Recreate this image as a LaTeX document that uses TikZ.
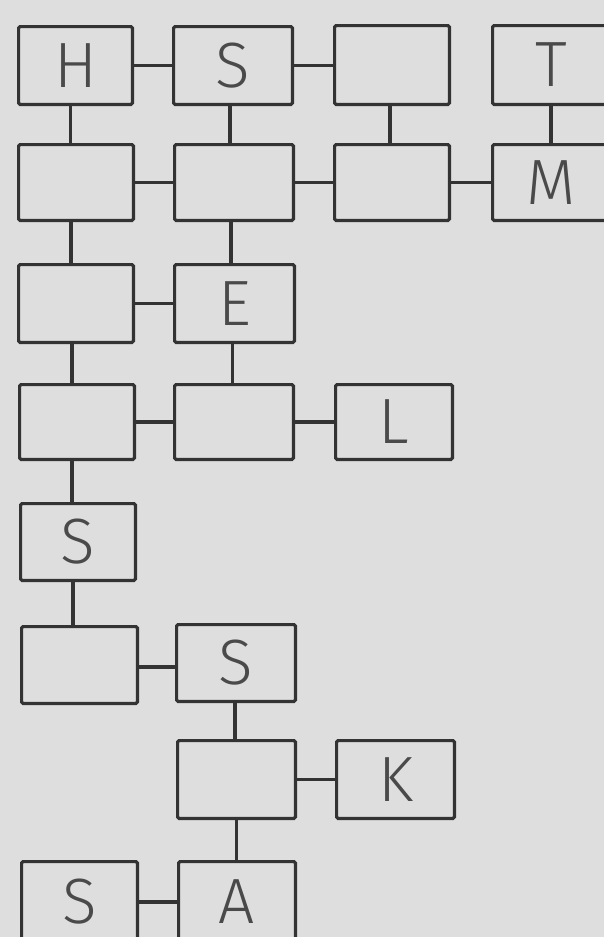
\documentclass[tikz,border=0pt]{standalone}
\usepackage{fontspec}
\setmainfont{Fira Sans Light}
\definecolor{paper}{HTML}{DEDEDE}
\definecolor{ink}{HTML}{333333}
\definecolor{pencil}{HTML}{4A4A4A}
\newcommand\mkbox[6]{\node[cell, minimum width={#4-#2-3.2}, minimum height={#5-#3-3.2}] (#1) at ({(#2+#4)/2},{(#3+#5)/2}) {#6};}
\newcommand\vlink[3]{\draw[link] ([xshift=#3pt]#1.south) coordinate (t) -- (t |- #2.north);}
\newcommand\hlink[3]{\draw[link] ([yshift=#3pt]#1.east) coordinate (t) -- (t -| #2.west);}
\begin{document}
\begin{tikzpicture}[x=1pt,y=-1pt,
  cell/.style={draw=ink, line width=3.2pt, rounded corners=1.5pt, inner sep=0pt,
    text=pencil, font=\fontsize{64}{64}\selectfont},
  link/.style={draw=ink, line width=3.2pt}]
\useasboundingbox (0,0) rectangle (604,937);
\fill[paper] (0,0) rectangle (604,937);
\clip (0,0) rectangle (604,937);
% row 1
\mkbox{r1c1}{17}{25}{134}{106}{H}
\mkbox{r1c2}{172}{25}{294}{106}{S}
\mkbox{r1c3}{333}{24}{451}{106}{}
\mkbox{r1c4}{491}{24}{611}{106}{T}
% row 2
\mkbox{r2c1}{17}{143}{135}{222}{}
\mkbox{r2c2}{173}{143}{295}{222}{}
\mkbox{r2c3}{333}{143}{451}{222}{}
\mkbox{r2c4}{491}{143}{611}{222}{M}
% row 3
\mkbox{r3c1}{17}{263}{135}{344}{}
\mkbox{r3c2}{173}{263}{296}{344}{E}
% row 4
\mkbox{r4c1}{18}{383}{136}{461}{}
\mkbox{r4c2}{173}{383}{295}{461}{}
\mkbox{r4c3}{334}{383}{454}{461}{L}
% row 5
\mkbox{r5c1}{19}{502}{137}{582}{S}
% row 6
\mkbox{r6c1}{20}{625}{139}{705}{}
\mkbox{r6c2}{175}{623}{297}{703}{S}
% row 7
\mkbox{r7c2}{176}{739}{297}{820}{}
\mkbox{r7c3}{335}{739}{456}{820}{K}
% row 8
\mkbox{r8c1}{20}{860}{139}{944}{S}
\mkbox{r8c2}{177}{860}{297}{944}{A}
% horizontal connectors
\hlink{r1c1}{r1c2}{0}
\hlink{r1c2}{r1c3}{0}
\hlink{r2c1}{r2c2}{0}
\hlink{r2c2}{r2c3}{0}
\hlink{r2c3}{r2c4}{0}
\hlink{r3c1}{r3c2}{0}
\hlink{r4c1}{r4c2}{0}
\hlink{r4c2}{r4c3}{0}
\hlink{r6c1}{r6c2}{-2}
\hlink{r7c2}{r7c3}{0}
\hlink{r8c1}{r8c2}{0}
% vertical connectors
\vlink{r1c1}{r2c1}{-5}
\vlink{r1c2}{r2c2}{-3}
\vlink{r1c3}{r2c3}{-2}
\vlink{r1c4}{r2c4}{0}
\vlink{r2c1}{r3c1}{-5}
\vlink{r2c2}{r3c2}{-3}
\vlink{r3c1}{r4c1}{-4}
\vlink{r3c2}{r4c2}{-2}
\vlink{r4c1}{r5c1}{-5}
\vlink{r5c1}{r6c1}{-5}
\vlink{r6c2}{r7c2}{-1}
\vlink{r7c2}{r8c2}{0}
\end{tikzpicture}
\end{document}
